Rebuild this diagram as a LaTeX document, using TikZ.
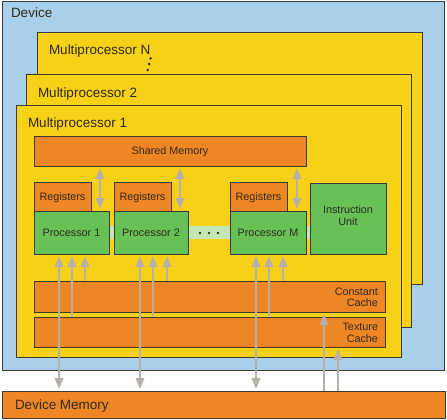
\documentclass[tikz,border=0pt]{standalone}
\usepackage{fontspec}
\setmainfont{Liberation Sans}
\usetikzlibrary{arrows.meta}
\definecolor{devblue}{HTML}{A9D0EA}
\definecolor{mpyellow}{HTML}{F7D117}
\definecolor{memorange}{HTML}{EE8626}
\definecolor{procgreen}{HTML}{68C156}
\definecolor{bargreen}{HTML}{C4E6B6}
\definecolor{arrc}{HTML}{B5B0AA}
\definecolor{edgec}{HTML}{3C3A30}
\definecolor{txtc}{HTML}{302A1C}
\begin{document}
\begin{tikzpicture}[x=1pt,y=-1pt,
  box/.style={draw=edgec, line width=1pt, inner sep=0pt, outer sep=0pt, anchor=north west, text=txtc},
  big/.style={font=\fontsize{13.5}{15}\selectfont, text=txtc, inner sep=0pt, outer sep=0pt},
  small/.style={font=\fontsize{10.8}{12}\selectfont, text=txtc, text height=7.7pt, text depth=0pt},
  smalllab/.style={font=\fontsize{10.8}{12}\selectfont, text=txtc, inner sep=0pt, outer sep=0pt},
  uparr/.style={draw=arrc, line width=2pt, -{Triangle[width=8.5pt,length=11pt]}, shorten >=2pt},
  bothwarr/.style={draw=arrc, line width=2pt, {Triangle[width=8.5pt,length=11pt]}-{Triangle[width=8.5pt,length=11pt]}, shorten >=2pt, shorten <=2pt}
]
\useasboundingbox (0,0) rectangle (447,420);
% device
\node[box, fill=devblue, minimum width=442pt, minimum height=368pt] (Dev) at (2,2) {};
\node[big, anchor=base west] (DevL) at (11,18) {Device};
% multiprocessor N
\node[box, fill=mpyellow, minimum width=385pt, minimum height=251pt] (MPN) at (37,33) {};
\node[big, anchor=base west] (MPNL) at (49,54.3) {Multiprocessor N};
\fill[txtc] (150.6,58.3) circle (1.4pt) (149.1,64) circle (1.4pt) (147.7,70) circle (1.4pt);
% multiprocessor 2
\node[box, fill=mpyellow, minimum width=385pt, minimum height=252pt] (MP2) at (26,75) {};
\node[big, anchor=base west] (MP2L) at (38,97.3) {Multiprocessor 2};
% multiprocessor 1
\node[box, fill=mpyellow, minimum width=385pt, minimum height=252pt] (MP1) at (16,105) {};
\node[big, anchor=base west] (MP1L) at (28,127.3) {Multiprocessor 1};
% shared memory
\node[box, fill=memorange, minimum width=272pt, minimum height=30pt, small] (SM) at (34,136) {Shared Memory};
% bar between processors
\fill[bargreen] (109,226) rectangle (310,239);
\fill[txtc] (200,233) circle (1.4pt) (209,233) circle (1.4pt) (218,233) circle (1.4pt);
% registers and processors
\node[box, fill=memorange, minimum width=57pt, minimum height=29pt, small] (R1) at (34,182) {Registers};
\node[box, fill=procgreen, minimum width=75pt, minimum height=43pt, small] (P1) at (34,211) {Processor 1};
\node[box, fill=memorange, minimum width=57pt, minimum height=29pt, small] (R2) at (114,182) {Registers};
\node[box, fill=procgreen, minimum width=74pt, minimum height=43pt, small] (P2) at (114,211) {Processor 2};
\node[box, fill=memorange, minimum width=57pt, minimum height=29pt, small] (RM) at (230,182) {Registers};
\node[box, fill=procgreen, minimum width=76pt, minimum height=43pt, small] (PM) at (230,211) {Processor M};
\node[box, fill=procgreen, minimum width=76pt, minimum height=71pt] (IU) at (310,183) {};
\node[smalllab, anchor=base] (IUa) at (348,213.3) {Instruction};
\node[smalllab, anchor=base] (IUb) at (348,225.3) {Unit};
% caches
\node[box, fill=memorange, minimum width=351pt, minimum height=31pt] (CC) at (34,281) {};
\node[smalllab, anchor=base east] (CCa) at (378,295) {Constant};
\node[smalllab, anchor=base east] (CCb) at (378,306.7) {Cache};
\node[box, fill=memorange, minimum width=351pt, minimum height=30pt] (TC) at (34,317) {};
\node[smalllab, anchor=base east] (TCa) at (378,330) {Texture};
\node[smalllab, anchor=base east] (TCb) at (378,342.7) {Cache};
% device memory
\node[box, fill=memorange, minimum width=443pt, minimum height=27pt] (DM) at (2,391) {};
\node[big, anchor=base west] (DML) at (15,409.3) {Device Memory};
% shared memory <-> processors
\draw[bothwarr] (SM.south -| 100,0) -- (P1.north -| 100,0);
\draw[bothwarr] (SM.south -| 180,0) -- (P2.north -| 180,0);
\draw[bothwarr] (SM.south -| 297,0) -- (PM.north -| 297,0);
% processor 1
\draw[bothwarr] (DM.north -| 59,0) -- (P1.south -| 59,0);
\draw[uparr] (TC.north -| 72,0) -- (P1.south -| 72,0);
\draw[uparr] (CC.north -| 85,0) -- (P1.south -| 85,0);
% processor 2
\draw[bothwarr] (DM.north -| 140,0) -- (P2.south -| 140,0);
\draw[uparr] (TC.north -| 153,0) -- (P2.south -| 153,0);
\draw[uparr] (CC.north -| 167,0) -- (P2.south -| 167,0);
% processor M
\draw[bothwarr] (DM.north -| 256,0) -- (PM.south -| 256,0);
\draw[uparr] (TC.north -| 269,0) -- (PM.south -| 269,0);
\draw[uparr] (CC.north -| 283,0) -- (PM.south -| 283,0);
% device memory -> caches
\draw[uparr] (DM.north -| 324,0) -- (CC.south -| 324,0);
\draw[uparr] (DM.north -| 338,0) -- (TC.south -| 338,0);
\end{tikzpicture}
\end{document}
